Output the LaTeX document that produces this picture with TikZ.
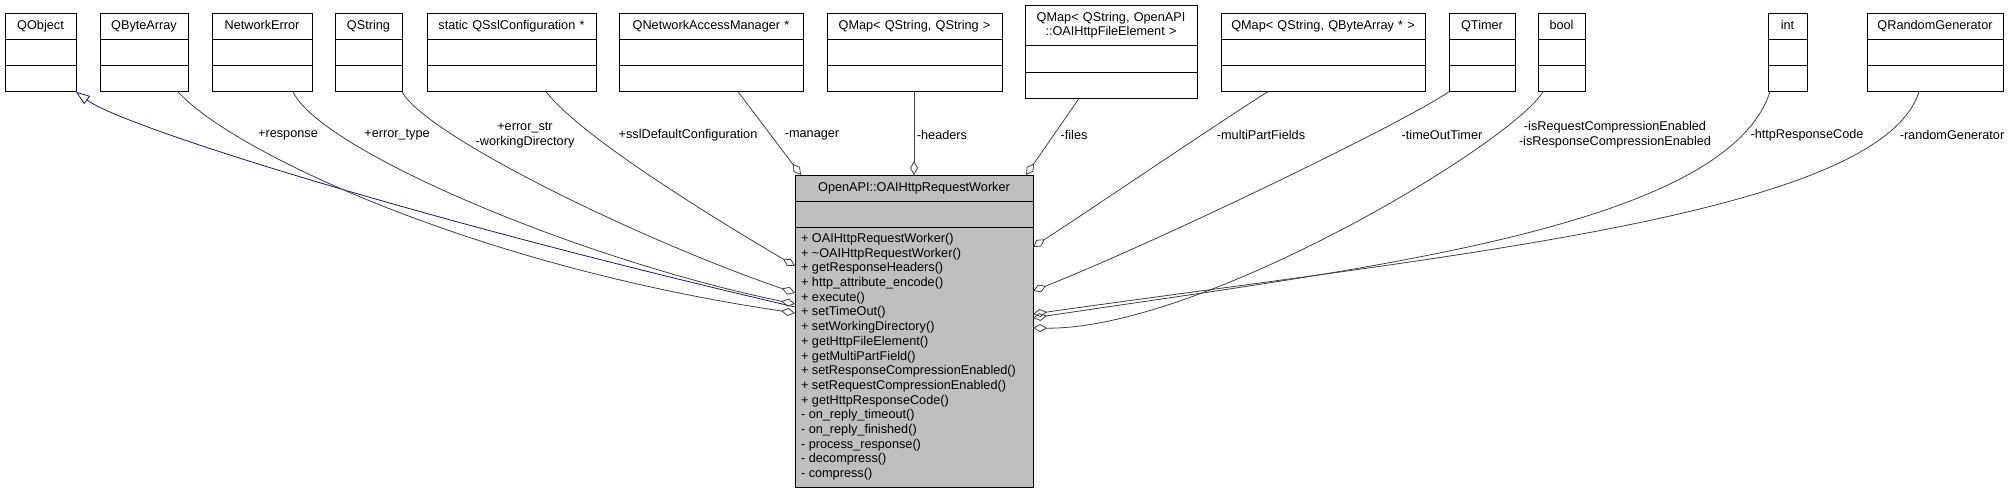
\documentclass[tikz,border=0pt]{standalone}
\usepackage{fontspec}
\setmainfont{Liberation Sans}
\usetikzlibrary{shapes.multipart,arrows.meta}
\definecolor{edgegray}{RGB}{64,64,64}
\definecolor{workergray}{RGB}{191,191,191}
\definecolor{inheritblue}{RGB}{25,25,112}

\begin{document}
\begin{tikzpicture}[
        x                       = 1pt,
        y                       = -1pt,
        every node/.style       = {font=\fontsize{12.7}{14.7}\selectfont, outer sep=0pt},
        classbox/.style         = {draw, black, line width=0.9pt, rectangle split, rectangle split parts=3,
                                   anchor=north west, inner xsep=6pt, inner ysep=5.32pt,
                                   rectangle split empty part height=14.7pt,
                                   rectangle split empty part depth=0pt,
                                   execute at begin node=\strut},
        topclass/.style         = {classbox, inner xsep=0pt, text width=#1, align=center},
        aggregation/.style      = {draw, edgegray, line width=0.8pt, -{Diamond[open, length=14pt, width=8pt]}},
        inheritline/.style      = {draw, inheritblue, line width=0.8pt, -{Triangle[open, length=14pt, width=10pt]}},
        rolename/.style         = {align=center, inner sep=0pt},
        %sloped
      ]
    \useasboundingbox (0,0) rectangle (2013,492);

    % classes along the top
    \node[topclass=71pt]  (qobject)      at (5,13)    {QObject\nodepart{two}\nodepart{three}};
    \node[topclass=88pt]  (qbytearray)   at (100,13)  {QByteArray\nodepart{two}\nodepart{three}};
    \node[topclass=100pt] (networkerror) at (212,13)  {NetworkError\nodepart{two}\nodepart{three}};
    \node[topclass=67pt]  (qstring)      at (335,13)  {QString\nodepart{two}\nodepart{three}};
    \node[topclass=169pt] (sslconf)      at (427,13)  {static QSslConfiguration *\nodepart{two}\nodepart{three}};
    \node[topclass=184pt] (netmanager)   at (619,13)  {QNetworkAccessManager *\nodepart{two}\nodepart{three}};
    \node[topclass=175pt] (qmapstr)      at (827,13)  {QMap< QString, QString >\nodepart{two}\nodepart{three}};
    \node[topclass=172pt] (qmapfile)     at (1025,5)
        {QMap< QString, OpenAPI\\::OAIHttpFileElement >\strut\nodepart{two}\nodepart{three}};
    \node[topclass=204pt] (qmapbytes)    at (1221,13) {QMap< QString, QByteArray * >\nodepart{two}\nodepart{three}};
    \node[topclass=66pt]  (qtimer)       at (1449,13) {QTimer\nodepart{two}\nodepart{three}};
    \node[topclass=47pt]  (boolbox)      at (1538,13) {bool\nodepart{two}\nodepart{three}};
    \node[topclass=39pt]  (intbox)       at (1768,13) {int\nodepart{two}\nodepart{three}};
    \node[topclass=136pt] (qrandom)      at (1867,13) {QRandomGenerator\nodepart{two}\nodepart{three}};

    % the worker class
    \node[classbox, fill=workergray, minimum width=238pt, align=left,
          rectangle split part align={center,center,left}] (worker) at (795,175)
        {OpenAPI::OAIHttpRequestWorker\nodepart{two}\nodepart{three}%
         + OAIHttpRequestWorker()\\
         + \textasciitilde OAIHttpRequestWorker()\\
         + getResponseHeaders()\\
         + http\_attribute\_encode()\\
         + execute()\\
         + setTimeOut()\\
         + setWorkingDirectory()\\
         + getHttpFileElement()\\
         + getMultiPartField()\\
         + setResponseCompressionEnabled()\\
         + setRequestCompressionEnabled()\\
         + getHttpResponseCode()\\
         - on\_reply\_timeout()\\
         - on\_reply\_finished()\\
         - process\_response()\\
         - decompress()\\
         - compress()};

    % role names
    \node[rolename] (lresponse) at (288,135)  {+response};
    \node[rolename] (lerrtype)  at (397,135)  {+error\_type};
    \node[rolename] (lerrstr)   at (525,135)  {+error\_str\\-workingDirectory};
    \node[rolename] (lssl)      at (688,135)  {+sslDefaultConfiguration};
    \node[rolename] (lmanager)  at (812,135)  {-manager};
    \node[rolename] (lheaders)  at (942,135)  {-headers};
    \node[rolename] (lfiles)    at (1074,135) {-files};
    \node[rolename] (lmulti)    at (1261,135) {-multiPartFields};
    \node[rolename] (ltimer)    at (1442,135) {-timeOutTimer};
    \node[rolename] (lcompress) at (1615,135) {-isRequestCompressionEnabled\\-isResponseCompressionEnabled};
    \node[rolename] (lcode)     at (1807,135) {-httpResponseCode};
    \node[rolename] (lrandom)   at (1952,135) {-randomGenerator};

    % inheritance
    \draw[inheritline] ([yshift=-132]worker.north west) .. controls (400,215) and (120,125) .. (qobject.south east);

    % members, left side
    \draw[aggregation] ([xshift=78]qbytearray.south west) .. controls (230,150) and (470,265) .. ([yshift=-138]worker.north west);
    \draw[aggregation] ([xshift=81]networkerror.south west) .. controls (320,150) and (580,260) .. ([yshift=-129]worker.north west);
    \draw[aggregation] (qstring.south east) .. controls (425,135) and (640,240) .. ([yshift=-118]worker.north west);
    \draw[aggregation] ([xshift=119]sslconf.south west) .. controls (580,135) and (700,210) .. ([yshift=-91]worker.north west);

    % members, top
    \draw[aggregation] ([xshift=119]netmanager.south west) -- ([xshift=6]worker.north west);
    \draw[aggregation] (qmapstr.south -| worker.north) -- (worker.north);
    \draw[aggregation] ([xshift=54]qmapfile.south west) -- ([xshift=-7]worker.north east);

    % members, right side
    \draw[aggregation] ([xshift=47]qmapbytes.south west) .. controls (1230,115) and (1090,210) .. ([yshift=-72]worker.north east);
    \draw[aggregation] (qtimer.south west) .. controls (1400,125) and (1150,245) .. ([yshift=-116]worker.north east);
    \draw[aggregation] ([xshift=5]boolbox.south west) .. controls (1510,145) and (1200,330) .. ([yshift=-153]worker.north east);
    \draw[aggregation] ([xshift=2]intbox.south west) .. controls (1725,230) and (1350,270) .. ([yshift=-143]worker.north east);
    \draw[aggregation] ([xshift=52]qrandom.south west) .. controls (1880,215) and (1450,255) .. ([yshift=-139]worker.north east);
\end{tikzpicture}
\end{document}
